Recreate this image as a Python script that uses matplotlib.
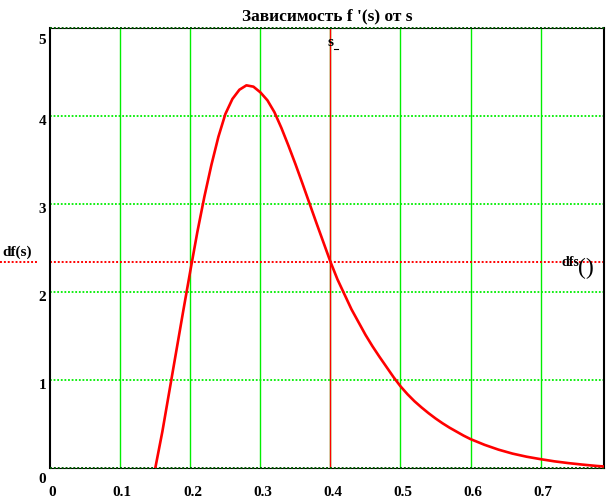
import matplotlib
matplotlib.use("Agg")
import matplotlib.pyplot as plt
from matplotlib.transforms import ScaledTranslation, blended_transform_factory
from matplotlib.lines import Line2D

# ---- data ----
s_vals = [0.150, 0.16, 0.17, 0.18, 0.19, 0.20, 0.21, 0.22, 0.23, 0.24,
          0.25, 0.26, 0.27, 0.28, 0.29, 0.30, 0.31, 0.32, 0.33, 0.34,
          0.35, 0.36, 0.37, 0.38, 0.39, 0.40, 0.41, 0.42, 0.43, 0.44,
          0.45, 0.46, 0.47, 0.48, 0.49, 0.50, 0.51, 0.52, 0.53, 0.54,
          0.55, 0.56, 0.57, 0.58, 0.59, 0.60, 0.62, 0.64, 0.66, 0.68,
          0.70, 0.72, 0.74, 0.76, 0.78, 0.79]
df_vals = [0.0, 0.41, 0.87, 1.33, 1.79, 2.24, 2.68, 3.08, 3.44, 3.76,
           4.02, 4.19, 4.295, 4.345, 4.33, 4.265, 4.175, 4.04, 3.86, 3.66,
           3.45, 3.23, 3.005, 2.78, 2.56, 2.34, 2.14, 1.97, 1.80, 1.655,
           1.51, 1.38, 1.26, 1.145, 1.03, 0.925, 0.835, 0.755, 0.685, 0.62,
           0.56, 0.505, 0.455, 0.41, 0.365, 0.325, 0.26, 0.205, 0.16, 0.125,
           0.097, 0.072, 0.052, 0.035, 0.02, 0.014]
s_marker = 0.4
df_marker = 2.34
x_ticks = [0, 0.1, 0.2, 0.3, 0.4, 0.5, 0.6, 0.7]
x_tick_labels = ["0", "0.1", "0.2", "0.3", "0.4", "0.5", "0.6", "0.7"]
y_ticks = [0, 1, 2, 3, 4, 5]
y_tick_labels = ["0", "1", "2", "3", "4", "5"]
title = "Зависимость f '(s) от s"

FONT = "Liberation Serif"
GREEN = "#00ee00"
DKGREEN = "#005a00"
RED = "#ff0000"

fig = plt.figure(figsize=(6.09, 4.98), dpi=100)
W, H = 609, 498
x0px, x1px, ytop, ybot = 50.3, 604.3, 27.7, 467.7
ax = fig.add_axes([x0px / W, 1 - ybot / H, (x1px - x0px) / W, (ybot - ytop) / H])
ax.set_xlim(0, 0.791)
ax.set_ylim(0, 5)

# grid
for x in x_ticks[1:]:
    ax.axvline(x, color=GREEN, lw=1.0, zorder=1)
for y in y_ticks[1:-1]:
    ax.axhline(y, color=GREEN, lw=1.3, linestyle=(0, (1, 1)), zorder=1)

# border lines
for y in (0, 5):
    ax.axhline(y, color="#000000", lw=0.8, zorder=3, clip_on=False)
    ax.axhline(y, color=DKGREEN, lw=1.4, linestyle=(0, (1, 1)), zorder=3, clip_on=False)

# marker lines
ax.axvline(s_marker, color=RED, lw=1.0, zorder=2)
ax.axhline(df_marker, color=RED, lw=1.4, linestyle=(0, (1, 1)), zorder=2)
trans = blended_transform_factory(fig.transFigure, ax.transData)
fig.add_artist(Line2D([0, 37 / W], [df_marker, df_marker], transform=trans,
                      color=RED, lw=1.4, linestyle=(0, (1, 1))))

# curve
ax.plot(s_vals, df_vals, color=RED, lw=1.9, zorder=4)

# spines
for side in ("top", "bottom"):
    ax.spines[side].set_visible(False)
for side in ("left", "right"):
    ax.spines[side].set_color("black")
    ax.spines[side].set_linewidth(1.5)

ax.set_xticks(x_ticks)
ax.set_xticklabels(x_tick_labels)
ax.set_yticks(y_ticks)
ax.set_yticklabels(y_tick_labels)
ax.tick_params(length=0)
ax.tick_params(axis="x", pad=13)
ax.tick_params(axis="y", pad=3)
for lab in ax.get_xticklabels() + ax.get_yticklabels():
    lab.set_fontfamily(FONT)
    lab.set_fontweight("bold")
    lab.set_fontsize(11)
for lab in ax.get_xticklabels():
    lab.set_transform(lab.get_transform() + ScaledTranslation(2 / 100, 0, fig.dpi_scale_trans))
ylabs = ax.get_yticklabels()
for i, lab in enumerate(ylabs):
    dy = 4
    if i == 0:
        dy = 10
    elif i == len(ylabs) - 1:
        dy = 11
    lab.set_transform(lab.get_transform() + ScaledTranslation(0, -dy / 100, fig.dpi_scale_trans))

ax.set_title(title, fontfamily=FONT, fontweight="bold", fontsize=12.5, pad=5)

# labels
fig.text(17 / W, 1 - 252 / H, "df(s)", fontfamily=FONT, fontweight="bold", fontsize=11,
         ha="center", va="center")
fig.text(562 / W, 1 - 263 / H, "dfs", fontfamily=FONT, fontweight="bold", fontsize=10,
         ha="left", va="center")
fig.text(578 / W, 1 - 268 / H, "()", fontfamily=FONT, fontsize=17,
         ha="left", va="center")
fig.text(330.5 / W, 1 - 43 / H, "s", fontfamily=FONT, fontweight="bold", fontsize=11,
         ha="center", va="center")
fig.add_artist(Line2D([334 / W, 338 / W], [1 - 49 / H, 1 - 49 / H], transform=fig.transFigure,
                      color="black", lw=0.8))

fig.savefig("out.png", dpi=100)
